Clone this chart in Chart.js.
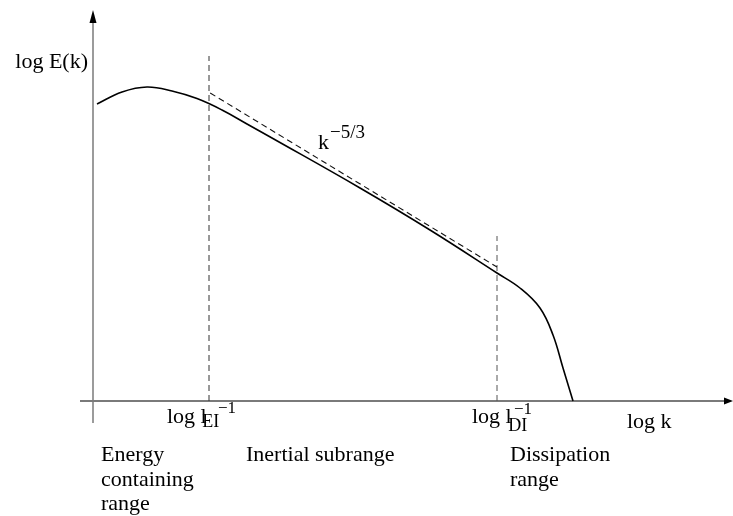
<!DOCTYPE html>
<html>
<head>
<meta charset="utf-8">
<script src="https://cdn.jsdelivr.net/npm/chart.js@4/dist/chart.umd.min.js"></script>
<style>
  body { margin: 0; background: #fff; }
  #wrap { width: 733px; height: 516px; }
</style>
</head>
<body>
<div id="wrap"><canvas id="spectrum"></canvas></div>
<script>
  // energy spectrum, log k vs log E(k) (arbitrary units)
  const logK = [0.1, 0.725, 1.35, 1.975, 2.6, 3.225, 3.85, 4.475, 6.675, 8.425, 10.1, 10.675, 11.175, 11.5, 11.75, 12.0];
  const logE = [7.425, 7.725, 7.85, 7.75, 7.56, 7.275, 6.925, 6.575, 5.325, 4.275, 3.2, 2.825, 2.325, 1.65, 0.825, 0];

  // k^-5/3 reference slope
  const slopeK = [2.93, 10.1];
  const slopeE = [7.7, 3.35];

  // range boundaries (log l_EI^-1, log l_DI^-1) and top of their marker lines
  const boundaryK = [2.9, 10.1];
  const boundaryTop = [8.625, 4.125];

  // axis extents
  const xAxisFrom = -0.325, xAxisTo = 16;
  const yAxisFrom = -0.55, yAxisTo = 9.775;

  const pts = (xs, ys) => xs.map((v, i) => ({ x: v, y: ys[i] }));

  const labels = [
    { t: 'log E(k)', x: -0.125, y: 8.325, size: 22, align: 'right' },
    { t: 'k', x: 5.625, y: 6.3, size: 22 },
    { t: '\u22125/3', x: 5.925, y: 6.575, size: 19 },
    { t: 'log l', x: 1.85, y: -0.55, size: 22 },
    { t: 'EI', x: 2.73, y: -0.65, size: 18 },
    { t: '\u22121', x: 3.125, y: -0.3, size: 17 },
    { t: 'log l', x: 9.475, y: -0.55, size: 22 },
    { t: 'DI', x: 10.38, y: -0.75, size: 18 },
    { t: '\u22121', x: 10.525, y: -0.325, size: 17 },
    { t: 'log k', x: 13.35, y: -0.675, size: 22 },
    { t: 'Energy', x: 0.2, y: -1.5, size: 22 },
    { t: 'containing', x: 0.2, y: -2.125, size: 22 },
    { t: 'range', x: 0.2, y: -2.725, size: 22 },
    { t: 'Inertial subrange', x: 3.825, y: -1.5, size: 22 },
    { t: 'Dissipation', x: 10.425, y: -1.5, size: 22 },
    { t: 'range', x: 10.425, y: -2.125, size: 22 }
  ];

  // arrowheads on the axes and all the text
  const annotate = {
    id: 'annotate',
    afterDatasetsDraw(chart) {
      const { ctx, scales: { x, y } } = chart;
      ctx.save();
      ctx.fillStyle = '#000';

      let ax = x.getPixelForValue(0), ay = y.getPixelForValue(yAxisTo);
      ctx.beginPath();
      ctx.moveTo(ax, ay);
      ctx.lineTo(ax - 3.5, ay + 13);
      ctx.lineTo(ax + 3.5, ay + 13);
      ctx.closePath();
      ctx.fill();

      ax = x.getPixelForValue(xAxisTo); ay = y.getPixelForValue(0);
      ctx.beginPath();
      ctx.moveTo(ax, ay);
      ctx.lineTo(ax - 9, ay - 3.5);
      ctx.lineTo(ax - 9, ay + 3.5);
      ctx.closePath();
      ctx.fill();

      ctx.textBaseline = 'alphabetic';
      labels.forEach(l => {
        ctx.font = l.size + 'px "Liberation Serif", "Times New Roman", serif';
        ctx.textAlign = l.align || 'left';
        ctx.fillText(l.t, x.getPixelForValue(l.x), y.getPixelForValue(l.y));
      });
      ctx.restore();
    }
  };

  const thin = { pointRadius: 0, fill: false, clip: false, tension: 0 };

  const data = {
    datasets: [
      {
        ...thin,
        label: 'E(k)',
        data: pts(logK, logE),
        borderColor: '#000',
        borderWidth: 1.6,
        tension: 0.4,
        order: 0
      },
      {
        ...thin,
        label: 'k^-5/3',
        data: pts(slopeK, slopeE),
        borderColor: '#111',
        borderWidth: 1.1,
        borderDash: [6, 4],
        order: 1
      },
      {
        ...thin,
        label: 'EI',
        data: [{ x: boundaryK[0], y: 0 }, { x: boundaryK[0], y: boundaryTop[0] }],
        borderColor: '#333',
        borderWidth: 1,
        borderDash: [6, 4],
        order: 2
      },
      {
        ...thin,
        label: 'DI',
        data: [{ x: boundaryK[1], y: 0 }, { x: boundaryK[1], y: boundaryTop[1] }],
        borderColor: '#555',
        borderWidth: 1,
        borderDash: [6, 4],
        order: 2
      },
      {
        ...thin,
        label: 'x axis',
        data: [{ x: xAxisFrom, y: 0 }, { x: xAxisTo - 0.2, y: 0 }],
        borderColor: '#7a7a7a',
        borderWidth: 2,
        order: 3
      },
      {
        ...thin,
        label: 'y axis',
        data: [{ x: 0, y: yAxisFrom }, { x: 0, y: yAxisTo - 0.3 }],
        borderColor: '#7a7a7a',
        borderWidth: 1.5,
        order: 3
      }
    ]
  };

  const config = {
    type: 'line',
    data: data,
    options: {
      responsive: true,
      maintainAspectRatio: false,
      animation: false,
      layout: { padding: { left: 93, right: 0, top: 1, bottom: 115 } },
      scales: {
        x: { type: 'linear', min: 0, max: 16, display: false },
        y: { type: 'linear', min: 0, max: 10, display: false }
      },
      plugins: {
        legend: { display: false },
        tooltip: { enabled: false }
      }
    },
    plugins: [annotate]
  };

  const spectrumChart = new Chart(document.getElementById('spectrum'), config);
</script>
</body>
</html>
